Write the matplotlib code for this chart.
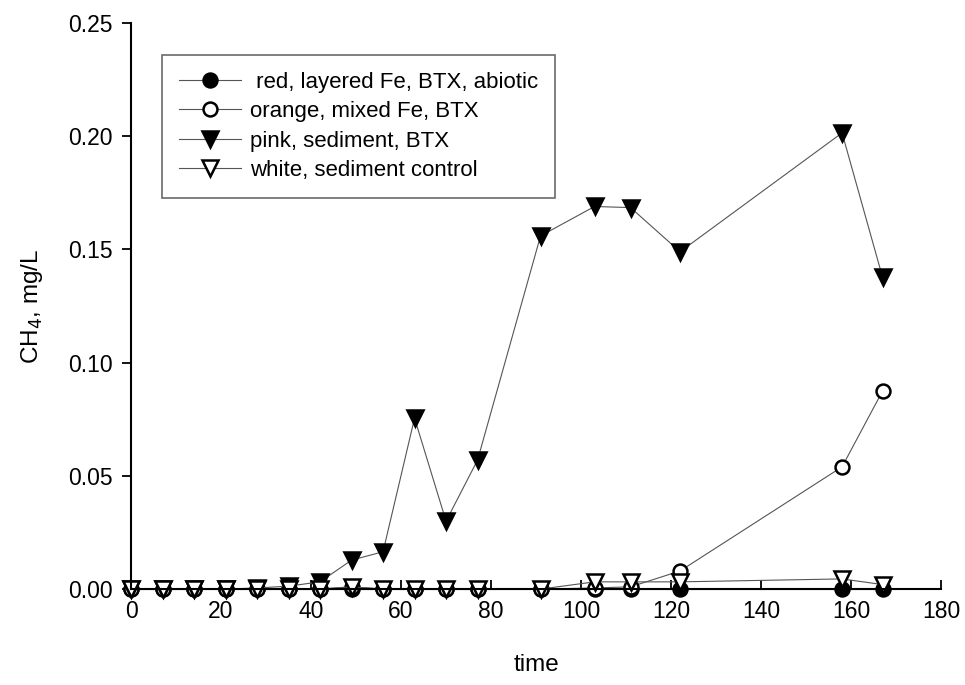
import numpy as np
from matplotlib import pyplot as plt
from matplotlib.ticker import FormatStrFormatter

plt.rcParams['font.family'] = ['Liberation Sans', 'DejaVu Sans']

#sampling days
time = [0, 7, 14, 21, 28, 35, 42, 49, 56, 63, 70, 77, 91, 103, 111, 122, 158, 167]

#CH4 (mg/L) for each column
red = [0, 0, 0, 0, 0, 0, 0, 0, 0, 0, 0, 0, 0, 0, 0, 0, 0, 0]
orange = [0, 0, 0, 0, 0, 0, 0, 0.001, 0, 0, 0, 0, 0, 0.0005, 0.001, 0.008, 0.054, 0.0875]
pink = [0, 0, 0, 0, 0.0005, 0.0013, 0.0032, 0.0128, 0.0165, 0.0755, 0.030, 0.057,
        0.156, 0.169, 0.1685, 0.149, 0.2015, 0.1377]
white = [0, 0, 0, 0, 0, 0, 0, 0.001, 0, 0, 0, 0, 0, 0.0032, 0.0032, 0.0032, 0.0045, 0.002]

labels = [' red, layered Fe, BTX, abiotic', 'orange, mixed Fe, BTX',
          'pink, sediment, BTX', 'white, sediment control']

fig = plt.figure(figsize=(9.65, 6.85), dpi=100)
ax = fig.add_axes([0.1358, 0.140, 0.8394, 0.8263])

#markers sit right on the axis line at zero, so no clipping
line_kw = dict(color='#555555', lw=0.8, markeredgecolor='black', markeredgewidth=1.8, clip_on=False)
ax.plot(time, red, marker='o', ms=10, markerfacecolor='black', label=labels[0], **line_kw)
ax.plot(time, orange, marker='o', ms=10, markerfacecolor='white', label=labels[1], **line_kw)
ax.plot(time, pink, marker='v', ms=11, markerfacecolor='black', label=labels[2], **line_kw)
ax.plot(time, white, marker='v', ms=11, markerfacecolor='white', label=labels[3], **line_kw)

ax.set_xlim(0, 180)
ax.set_ylim(0, 0.25)
ax.set_xticks(np.arange(0, 181, 20))
ax.set_yticks(np.arange(0, 0.251, 0.05))
ax.yaxis.set_major_formatter(FormatStrFormatter('%.2f'))

for side in ['top', 'right']:
    ax.spines[side].set_visible(False)
for side in ['left', 'bottom']:
    ax.spines[side].set_linewidth(1.5)

ax.tick_params(axis='y', direction='out', length=6.5, width=1.3, pad=7, labelsize=16.5)
ax.tick_params(axis='x', direction='in', length=6.5, width=1.3, pad=8, labelsize=16.5)

ax.set_xlabel('time', fontsize=17.5, labelpad=22)
ax.set_ylabel('CH$_4$, mg/L', fontsize=17.5, labelpad=16)

leg = ax.legend(loc='upper left', bbox_to_anchor=(0.168, 0.9197), bbox_transform=fig.transFigure,
                fontsize=16, frameon=True, fancybox=False, edgecolor='#444444',
                handlelength=2.8, handletextpad=0.4, labelspacing=0.38,
                borderpad=0.75, borderaxespad=0)
leg.get_frame().set_linewidth(1.2)

fig.savefig('out.png', dpi=100)
